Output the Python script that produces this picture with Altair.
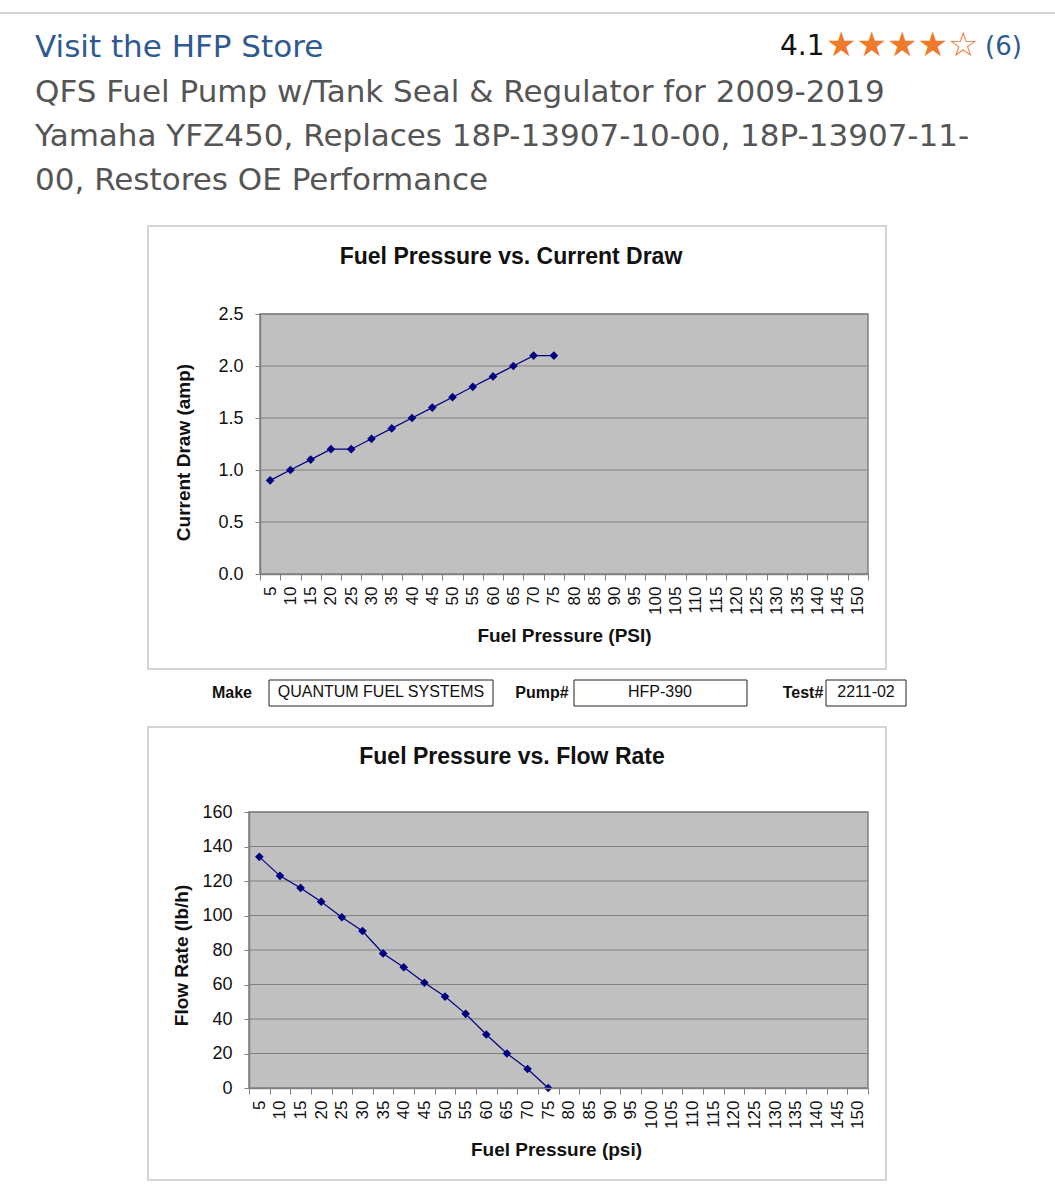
import altair as alt
import pandas as pd

# ---------------- data ----------------
pressure_categories = list(range(5, 155, 5))          # x tick labels 5 .. 150
pressure_measured = [5, 10, 15, 20, 25, 30, 35, 40, 45, 50, 55, 60, 65, 70, 75]
current_draw_amp = [0.9, 1.0, 1.1, 1.2, 1.2, 1.3, 1.4, 1.5, 1.6, 1.7, 1.8, 1.9, 2.0, 2.1, 2.1]
flow_rate_lbh = [134, 123, 116, 108, 99, 91, 78, 70, 61, 53, 43, 31, 20, 11, 0]
current_ticks = [0.0, 0.5, 1.0, 1.5, 2.0, 2.5]
flow_ticks = [0, 20, 40, 60, 80, 100, 120, 140, 160]

store_link = "Visit the HFP Store"
rating_value = "4.1"
rating_stars = "★★★★☆"
rating_count = "(6)"
product_title_lines = [
    "QFS Fuel Pump w/Tank Seal & Regulator for 2009-2019",
    "Yamaha YFZ450, Replaces 18P-13907-10-00, 18P-13907-11-",
    "00, Restores OE Performance",
]
chart1_title = "Fuel Pressure vs. Current Draw"
chart1_ytitle = "Current Draw (amp)"
chart1_xtitle = "Fuel Pressure (PSI)"
chart2_title = "Fuel Pressure vs. Flow Rate"
chart2_ytitle = "Flow Rate (lb/h)"
chart2_xtitle = "Fuel Pressure (psi)"
make_label, make_value = "Make", "QUANTUM FUEL SYSTEMS"
pump_label, pump_value = "Pump#", "HFP-390"
test_label, test_value = "Test#", "2211-02"

W, H = 1055, 1200
FONT = "Liberation Sans"
HFONT = "DejaVu Sans"
NAVY = "#000080"
GRID = "#808080"
PLOT_BG = "#c0c0c0"


def text_layer(t, x, y, **kw):
    return alt.Chart(pd.DataFrame({"t": [t]})).mark_text(**kw).encode(
        text="t:N", x=alt.value(x), y=alt.value(y)
    )


def box_layer(x, x2, y, y2, stroke, sw=1.0, fill="white"):
    return alt.Chart(pd.DataFrame({"k": [0]})).mark_rect(
        fill=fill, stroke=stroke, strokeWidth=sw
    ).encode(x=alt.value(x), x2=alt.value(x2), y=alt.value(y), y2=alt.value(y2))


def excel_chart(values, field, ticks, fmt, left, top, bottom, right,
                xtitle, ytitle, xtitle_center, ytitle_x, ytitle_center):
    df = pd.DataFrame({"pressure": pressure_measured, field: values})
    grid_df = pd.DataFrame({field: ticks[1:]})
    x = alt.X(
        "pressure:O",
        bandPosition=0.5,
        scale=alt.Scale(type="band", domain=pressure_categories, range=[left, right],
                        paddingInner=0, paddingOuter=0),
        axis=alt.Axis(
            orient="bottom", offset=bottom - H, title=xtitle, labelAngle=270,
            tickBand="extent", tickSize=6, tickColor=GRID, domainColor=GRID,
            domainWidth=1.5, labelFont=FONT, labelFontSize=17, labelColor="#111",
            labelPadding=6, grid=False, titleFont=FONT, titleFontSize=19,
            titleFontWeight="bold", titleColor="#111", titleX=xtitle_center,
            titleY=61, titleAlign="center", titleBaseline="middle", zindex=1,
        ),
    )
    y = alt.Y(
        f"{field}:Q",
        scale=alt.Scale(domain=[ticks[0], ticks[-1]], range=[bottom, top], nice=False, zero=False),
        axis=alt.Axis(
            orient="left", offset=-left, values=ticks, format=fmt, grid=False,
            tickSize=5, tickColor=GRID, domainColor=GRID, domainWidth=1.5,
            labelFont=FONT, labelFontSize=18, labelColor="#111", labelPadding=12,
            title=ytitle, titleFont=FONT, titleFontSize=19, titleFontWeight="bold",
            titleColor="#111", titleAngle=270, titleX=ytitle_x - left, titleY=ytitle_center,
            titleAlign="center", titleBaseline="middle", zindex=1,
        ),
    )
    bg = box_layer(left, right, top, bottom, GRID, sw=1.5, fill=PLOT_BG)
    grid = alt.Chart(grid_df).mark_rule(color=GRID, strokeWidth=1).encode(
        y=y, x=alt.value(left), x2=alt.value(right)
    )
    line = alt.Chart(df).mark_line(color=NAVY, strokeWidth=1.2).encode(x=x, y=y)
    pts = alt.Chart(df).mark_point(shape="diamond", filled=True, size=75,
                                   color=NAVY, opacity=1).encode(x=x, y=y)
    return alt.layer(bg, grid, line, pts)


layers = [
    # header
    alt.Chart(pd.DataFrame({"k": [0]})).mark_rule(color="#d5d5d5", strokeWidth=2).encode(
        x=alt.value(0), x2=alt.value(W), y=alt.value(13)),
    text_layer(store_link, 35, 57, font=HFONT, fontSize=31, color="#2f5a91",
               align="left", baseline="alphabetic"),
    text_layer(rating_value, 780, 55, font=HFONT, fontSize=28, color="#111",
               align="left", baseline="alphabetic"),
    text_layer(rating_stars, 826, 56, font="DejaVu Sans", fontSize=34, color="#ee7a2c",
               align="left", baseline="alphabetic"),
    text_layer(rating_count, 985, 55, font=HFONT, fontSize=26, color="#2f5a91",
               align="left", baseline="alphabetic"),
    text_layer(product_title_lines[0], 35, 102, font=HFONT, fontSize=31, color="#555555",
               align="left", baseline="alphabetic"),
    text_layer(product_title_lines[1], 35, 146, font=HFONT, fontSize=31, color="#555555",
               align="left", baseline="alphabetic"),
    text_layer(product_title_lines[2], 35, 190, font=HFONT, fontSize=31, color="#555555",
               align="left", baseline="alphabetic"),
    # chart frames
    box_layer(148, 886, 226, 669, "#c8c8c8", sw=1.5),
    box_layer(148, 886, 727, 1180, "#c8c8c8", sw=1.5),
    text_layer(chart1_title, 511, 257, font=FONT, fontSize=23, fontWeight="bold",
               color="#111", align="center", baseline="middle"),
    text_layer(chart2_title, 512, 757, font=FONT, fontSize=23, fontWeight="bold",
               color="#111", align="center", baseline="middle"),
    excel_chart(current_draw_amp, "current", current_ticks, ".1f", 260, 314, 574, 868,
                chart1_xtitle, chart1_ytitle, 564, 183, 452),
    excel_chart(flow_rate_lbh, "flow", flow_ticks, "d", 249, 812, 1088, 868,
                chart2_xtitle, chart2_ytitle, 556, 181, 955),
    # make / pump / test row
    text_layer(make_label, 232, 693, font=FONT, fontSize=16, fontWeight="bold",
               color="#111", align="center", baseline="middle"),
    box_layer(269, 493, 680, 706, "#222"),
    text_layer(make_value, 381, 692, font=FONT, fontSize=16, color="#111",
               align="center", baseline="middle"),
    text_layer(pump_label, 542, 693, font=FONT, fontSize=16, fontWeight="bold",
               color="#111", align="center", baseline="middle"),
    box_layer(574, 747, 680, 706, "#222"),
    text_layer(pump_value, 660, 692, font=FONT, fontSize=16, color="#111",
               align="center", baseline="middle"),
    text_layer(test_label, 803, 693, font=FONT, fontSize=16, fontWeight="bold",
               color="#111", align="center", baseline="middle"),
    box_layer(826, 906, 680, 706, "#222"),
    text_layer(test_value, 866, 692, font=FONT, fontSize=16, color="#111",
               align="center", baseline="middle"),
]

chart = (
    alt.layer(*layers)
    .resolve_scale(x="independent", y="independent")
    .resolve_axis(x="independent", y="independent")
    .properties(width=W, height=H, padding=0,
                autosize=alt.AutoSizeParams(type="none"), background="white")
    .configure_view(strokeWidth=0)
)

chart.save("out.html", embed_options={"renderer": "svg", "actions": False})
